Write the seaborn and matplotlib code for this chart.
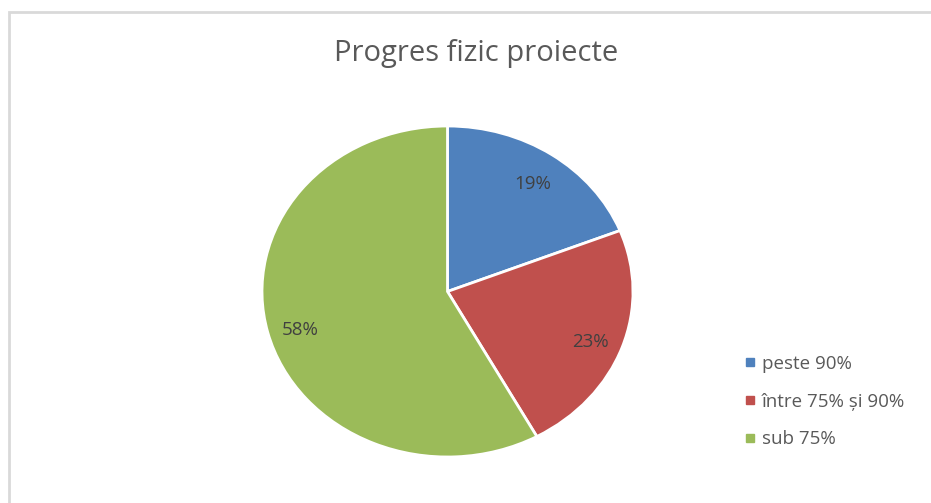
import matplotlib
matplotlib.use('Agg')
import matplotlib.pyplot as plt
import matplotlib.patches as mpatches
from matplotlib.lines import Line2D
import seaborn as sns

# chart data
categories = ['peste 90%', 'între 75% și 90%', 'sub 75%']
shares = [19, 23, 58]
colors = ['#4f81bd', '#c0504d', '#9bbb59']
title = 'Progres fizic proiecte'

sns.set_theme(style='white')
plt.rcParams['font.family'] = ['Open Sans', 'DejaVu Sans']

fig = plt.figure(figsize=(9.31, 5.03), dpi=100)
fig.patch.set_facecolor('white')

# chart frame (only top and left edges visible in the screenshot)
frame = mpatches.Rectangle((9 / 931, -0.1), 1.2, 1.1 - 12 / 503, transform=fig.transFigure,
                           fill=False, edgecolor='#d9d9d9', linewidth=2)
fig.add_artist(frame)

ax = fig.add_axes([262 / 931, 46 / 503, 371 / 931, 331 / 503])
wedges, texts, autotexts = ax.pie(shares, colors=colors, startangle=90, counterclock=False,
                                  autopct='%1.0f%%', pctdistance=0.82,
                                  wedgeprops={'edgecolor': 'white', 'linewidth': 2},
                                  textprops={'fontsize': 13.5, 'color': '#404040'})
# labels sit slightly lower in the original
for t in autotexts:
    x, y = t.get_position()
    t.set_position((x, y - 0.03))
# the original pie is stretched horizontally
ax.set_aspect('auto')
ax.set_xlim(-1, 1)
ax.set_ylim(-1, 1)
ax.axis('off')

fig.text(476 / 931, 1 - 53 / 503, title, ha='center', va='center', fontsize=21, color='#595959')

handles = [Line2D([], [], marker='s', linestyle='none', markersize=6, color=c) for c in colors]
leg = fig.legend(handles, categories, loc='upper left', bbox_to_anchor=(724 / 931, 1 - 338 / 503),
                 frameon=False, fontsize=13.5, labelcolor='#595959', handletextpad=0.1,
                 labelspacing=1.05, handlelength=1.0)

fig.savefig('out.png', dpi=100)
